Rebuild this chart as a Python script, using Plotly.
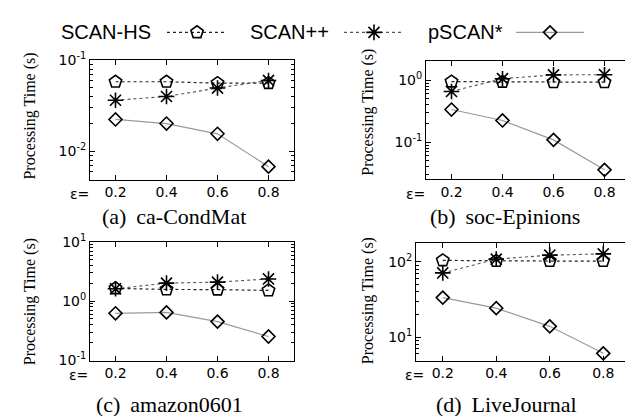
import math
import plotly.graph_objects as go

W, H = 633, 416

# ---------------- data ----------------
eps = [0.2, 0.4, 0.6, 0.8]
eps_labels = ["0.2", "0.4", "0.6", "0.8"]
series_names = ["SCAN-HS", "SCAN++", "pSCAN*"]

a_hs = [0.058, 0.058, 0.056, 0.056]
a_pp = [0.0364, 0.040, 0.0495, 0.060]
a_ps = [0.0224, 0.0202, 0.0156, 0.0068]

b_hs = [0.95, 0.94, 0.93, 0.93]
b_pp = [0.66, 1.06, 1.22, 1.23]
b_ps = [0.337, 0.224, 0.109, 0.0358]

c_hs = [1.65, 1.58, 1.57, 1.52]
c_pp = [1.62, 2.02, 2.10, 2.38]
c_ps = [0.624, 0.647, 0.452, 0.253]

d_hs = [104, 102, 102, 102]
d_pp = [71, 108, 122, 127]
d_ps = [33.4, 24.2, 13.9, 6.1]

captions = ["(a)\u00a0\u2009ca-CondMat", "(b)\u00a0\u2009soc-Epinions",
            "(c)\u00a0\u2009amazon0601", "(d)\u00a0\u2009LiveJournal"]

# ---------------- styles ----------------
SANS = "DejaVu Sans"
SERIF = "Liberation Serif"
styles = {
    "SCAN-HS": dict(line=dict(color="#222222", width=1.2, dash="dot"),
                    marker=dict(symbol="pentagon-open", size=13,
                                color="black", line=dict(width=1.6, color="black"))),
    "SCAN++": dict(line=dict(color="#555555", width=1.1, dash="dot"),
                   marker=dict(symbol="asterisk-open", size=13,
                               color="black", line=dict(width=1.6, color="black"))),
    "pSCAN*": dict(line=dict(color="#9a9a9a", width=1.2, dash="solid"),
                   marker=dict(symbol="diamond-open", size=10,
                               color="black", line=dict(width=1.6, color="black"))),
}

panels = [
    dict(data=[a_hs, a_pp, a_ps], px=(82, 286), py=(44, 169), yr=(-2.31, -0.999),
         yt=[-2, -1], eps_x=71, eps_y=184, title_x=22, title_y=103,
         cap=(166, 207)),
    dict(data=[b_hs, b_pp, b_ps], px=(418, 622), py=(45, 168), yr=(-1.59, 0.31),
         yt=[-1, 0], eps_x=407, eps_y=184, title_x=360, title_y=99,
         cap=(497, 207)),
    dict(data=[c_hs, c_pp, c_ps], px=(82, 286), py=(234, 358), yr=(-1.003, 1.003),
         yt=[-1, 0, 1], eps_x=70, eps_y=373, title_x=22, title_y=297,
         cap=(161, 404)),
    dict(data=[d_hs, d_pp, d_ps], px=(408, 622), py=(235, 358), yr=(0.69, 2.25),
         yt=[1, 2], eps_x=406, eps_y=373, title_x=360, title_y=296,
         cap=(498, 404)),
]


def fx(p):
    return p / W


def fy(p):
    return 1 - p / H


fig = go.Figure()
layout = dict(width=W, height=H, margin=dict(l=0, r=0, t=0, b=0),
              paper_bgcolor="white", plot_bgcolor="rgba(0,0,0,0)", showlegend=False)
annotations = []

for i, pn in enumerate(panels, start=1):
    xa = "xaxis" if i == 1 else f"xaxis{i}"
    ya = "yaxis" if i == 1 else f"yaxis{i}"
    xr = "x" if i == 1 else f"x{i}"
    yr_ = "y" if i == 1 else f"y{i}"
    for name, vals in zip(series_names, pn["data"]):
        st = styles[name]
        fig.add_trace(go.Scatter(x=eps, y=vals, mode="lines+markers", name=name,
                                 line=st["line"], marker=st["marker"],
                                 xaxis=xr, yaxis=yr_, showlegend=False))
    lo, hi = pn["yr"]
    minor_vals = []
    for e in range(math.floor(lo) - 1, math.ceil(hi) + 1):
        for k in range(2, 10):
            v = k * 10 ** e
            if lo <= math.log10(v) <= hi:
                minor_vals.append(v)
    layout[xa] = dict(domain=[fx(pn["px"][0]), fx(pn["px"][1])], range=[0.1, 0.9],
                      anchor=yr_, tickmode="array", tickvals=eps, ticktext=eps_labels,
                      ticks="inside", ticklen=5, tickwidth=1, tickcolor="black",
                      showline=True, linecolor="black", linewidth=1, mirror="ticks",
                      showgrid=False, zeroline=False,
                      tickfont=dict(family=SANS, size=14, color="black"))
    layout[ya] = dict(domain=[fy(pn["py"][1]), fy(pn["py"][0])], type="log",
                      range=[lo, hi], anchor=xr, tickmode="array",
                      tickvals=[10 ** t for t in pn["yt"]],
                      ticktext=[f"10<sup>{t}</sup>" for t in pn["yt"]],
                      ticks="inside", ticklen=5, tickwidth=1, tickcolor="black",
                      showline=True, linecolor="black", linewidth=1, mirror="ticks",
                      showgrid=False, zeroline=False,
                      tickfont=dict(family=SANS, size=14, color="black"))
    # overlay axis carrying the short minor log ticks
    k = 5 + i
    layout[f"yaxis{k}"] = dict(type="log", range=[lo, hi], overlaying=yr_, anchor=xr,
                               side="left", tickmode="array", tickvals=minor_vals,
                               showticklabels=False, ticks="inside", ticklen=3,
                               tickwidth=1, tickcolor="black", mirror="ticks",
                               showline=False, showgrid=False, zeroline=False)
    fig.add_trace(go.Scatter(x=[eps[0]], y=[pn["data"][0][0]], mode="markers",
                             marker=dict(opacity=0), xaxis=xr, yaxis=f"y{k}",
                             showlegend=False, hoverinfo="skip"))
    annotations.append(dict(text="\u03b5=", x=fx(pn["eps_x"]), y=fy(pn["eps_y"]),
                            xref="paper", yref="paper", showarrow=False,
                            xanchor="center", yanchor="middle",
                            font=dict(family=SANS, size=14, color="black")))
    annotations.append(dict(text="Processing Time (s)", x=fx(pn["title_x"]),
                            y=fy(pn["title_y"]), xref="paper", yref="paper",
                            showarrow=False, textangle=-90, xanchor="center",
                            yanchor="middle",
                            font=dict(family=SERIF, size=16, color="black")))
    annotations.append(dict(text=captions[i - 1], x=fx(pn["cap"][0]), y=fy(pn["cap"][1]),
                            xref="paper", yref="paper", showarrow=False,
                            xanchor="center", yanchor="middle",
                            font=dict(family=SERIF, size=22, color="black")))

# ---------------- legend (text left of sample, like the reference) ----------------
leg_y = 15
leg_items = [
    ("SCAN-HS", 145, (159, 219), 189),
    ("SCAN++", 323, (336, 395), 366),
    ("pSCAN*", 497, (508, 576), 542),
]
for name, text_right, (l0, l1), mx in leg_items:
    st = styles[name]
    annotations.append(dict(text=name, x=fx(text_right), y=fy(leg_y), xref="paper",
                            yref="paper", showarrow=False, xanchor="right",
                            yanchor="middle",
                            font=dict(family="Liberation Sans", size=20, color="black")))
    fig.add_trace(go.Scatter(x=[l0, l1], y=[leg_y, leg_y], mode="lines",
                             line=st["line"], xaxis="x5", yaxis="y5",
                             showlegend=False, hoverinfo="skip"))
    fig.add_trace(go.Scatter(x=[mx], y=[leg_y], mode="markers", marker=st["marker"],
                             xaxis="x5", yaxis="y5", showlegend=False,
                             hoverinfo="skip"))

layout["xaxis5"] = dict(domain=[0, 1], range=[0, W], visible=False, fixedrange=True,
                        anchor="y5")
layout["yaxis5"] = dict(domain=[fy(32), 1], range=[32, 0], visible=False,
                        fixedrange=True, anchor="x5")
layout["annotations"] = annotations
fig.update_layout(**layout)

fig.write_html("out.html")
